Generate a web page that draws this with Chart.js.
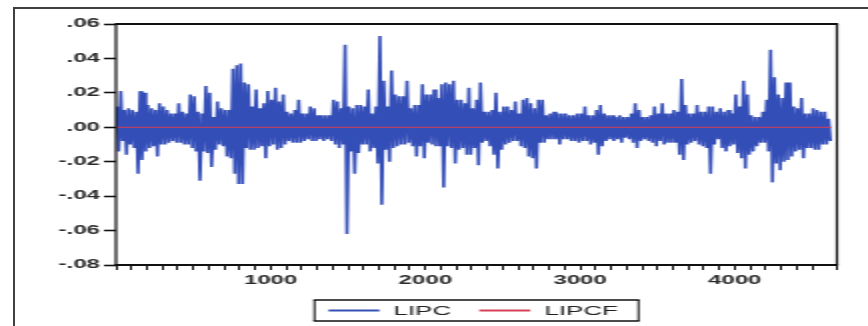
<!DOCTYPE html>
<html>
<head>
<meta charset="utf-8">
<title>LIPC / LIPCF</title>
<script src="https://cdn.jsdelivr.net/npm/chart.js@4.4.1/dist/chart.umd.min.js"></script>
<style>
    html, body { margin: 0; padding: 0; background: #fff; overflow: hidden; width: 868px; height: 326px; }
    #frame { position: absolute; left: 13px; top: 7px; width: 900px; height: 400px; border: 2px solid #404040; box-sizing: border-box; }
    /* the source graph is stretched 2x horizontally, so the chart is drawn at half width and scaled */
    #wrap { position: absolute; left: 0; top: 0; width: 434px; height: 326px; transform: scale(2, 1); transform-origin: 0 0; }
</style>
</head>
<body>
<div id="frame"></div>
<div id="wrap"><canvas id="chart" width="434" height="326"></canvas></div>
<script>
const bucketSize = 25;
const lipcHigh = [
    0.012, 0.021, 0.010, 0.011, 0.010, 0.009, 0.021, 0.020, 0.013, 0.011,
    0.010, 0.014, 0.012, 0.010, 0.008, 0.008, 0.014, 0.009, 0.008, 0.019,
    0.018, 0.009, 0.008, 0.024, 0.020, 0.006, 0.015, 0.011, 0.010, 0.010,
    0.034, 0.036, 0.037, 0.026, 0.025, 0.012, 0.022, 0.011, 0.014, 0.021,
    0.016, 0.023, 0.015, 0.019, 0.009, 0.008, 0.010, 0.016, 0.008, 0.008,
    0.012, 0.011, 0.007, 0.007, 0.007, 0.007, 0.016, 0.015, 0.011, 0.048,
    0.012, 0.011, 0.013, 0.013, 0.012, 0.022, 0.008, 0.012, 0.053, 0.027,
    0.012, 0.033, 0.019, 0.018, 0.018, 0.027, 0.011, 0.013, 0.013, 0.025,
    0.019, 0.019, 0.022, 0.017, 0.025, 0.026, 0.025, 0.027, 0.016, 0.016,
    0.014, 0.023, 0.011, 0.016, 0.026, 0.009, 0.009, 0.010, 0.020, 0.009,
    0.012, 0.012, 0.010, 0.015, 0.008, 0.016, 0.017, 0.014, 0.011, 0.016,
    0.016, 0.007, 0.008, 0.009, 0.008, 0.008, 0.008, 0.007, 0.007, 0.008,
    0.008, 0.012, 0.007, 0.007, 0.010, 0.013, 0.008, 0.007, 0.007, 0.006,
    0.007, 0.006, 0.006, 0.008, 0.014, 0.010, 0.006, 0.006, 0.007, 0.012,
    0.008, 0.014, 0.008, 0.008, 0.010, 0.009, 0.028, 0.013, 0.008, 0.008,
    0.013, 0.009, 0.009, 0.012, 0.012, 0.009, 0.011, 0.009, 0.010, 0.008,
    0.019, 0.012, 0.027, 0.019, 0.007, 0.006, 0.006, 0.009, 0.016, 0.045,
    0.029, 0.019, 0.017, 0.026, 0.026, 0.012, 0.011, 0.017, 0.008, 0.008,
    0.011, 0.010, 0.009, 0.009, 0.005
];
const lipcLow = [
    -0.014, -0.008, -0.016, -0.010, -0.012, -0.027, -0.019, -0.014, -0.012, -0.011,
    -0.017, -0.010, -0.010, -0.009, -0.008, -0.009, -0.009, -0.010, -0.010, -0.012,
    -0.014, -0.031, -0.014, -0.015, -0.023, -0.013, -0.010, -0.011, -0.017, -0.018,
    -0.027, -0.033, -0.033, -0.012, -0.013, -0.013, -0.012, -0.011, -0.018, -0.011,
    -0.010, -0.013, -0.012, -0.010, -0.008, -0.009, -0.009, -0.009, -0.008, -0.007,
    -0.008, -0.008, -0.007, -0.008, -0.007, -0.008, -0.010, -0.012, -0.010, -0.062,
    -0.014, -0.027, -0.015, -0.010, -0.010, -0.014, -0.012, -0.021, -0.045, -0.013,
    -0.020, -0.012, -0.011, -0.010, -0.010, -0.009, -0.011, -0.017, -0.011, -0.018,
    -0.009, -0.010, -0.011, -0.011, -0.035, -0.011, -0.012, -0.021, -0.013, -0.012,
    -0.016, -0.016, -0.012, -0.022, -0.009, -0.008, -0.011, -0.016, -0.024, -0.013,
    -0.010, -0.009, -0.008, -0.008, -0.011, -0.012, -0.017, -0.018, -0.024, -0.009,
    -0.009, -0.007, -0.007, -0.007, -0.010, -0.007, -0.007, -0.008, -0.008, -0.009,
    -0.008, -0.008, -0.010, -0.009, -0.016, -0.011, -0.008, -0.007, -0.008, -0.007,
    -0.009, -0.006, -0.007, -0.009, -0.012, -0.008, -0.007, -0.008, -0.009, -0.011,
    -0.008, -0.010, -0.009, -0.009, -0.009, -0.016, -0.019, -0.010, -0.009, -0.008,
    -0.010, -0.011, -0.012, -0.027, -0.010, -0.007, -0.012, -0.014, -0.011, -0.010,
    -0.015, -0.018, -0.024, -0.016, -0.014, -0.011, -0.009, -0.009, -0.014, -0.032,
    -0.021, -0.025, -0.020, -0.019, -0.017, -0.014, -0.013, -0.018, -0.012, -0.012,
    -0.013, -0.013, -0.010, -0.010, -0.008
];
// LIPCF (fitted) stays flat on zero
const lipcfObs = [1, 4625];
const lipcfValues = [0.0, 0.0];

const xMin = 0, xMax = 4660;
const yMin = -0.08, yMax = 0.06, yStep = 0.02;
const xStep = 100, xLabelStep = 1000;

const BLUE = 'rgb(52, 78, 184)';
const RED = 'rgb(214, 62, 86)';
const FONT = "'Liberation Sans', Arial, sans-serif";

// zigzag through each block: its high, then its low
const lipcPoints = [];
lipcHigh.forEach((hi, k) => {
    lipcPoints.push({ x: k * bucketSize + 6, y: hi });
    lipcPoints.push({ x: k * bucketSize + 18, y: lipcLow[k] });
});
const lipcfPoints = lipcfObs.map((x, i) => ({ x, y: lipcfValues[i] }));

function yLabel(v) {
    if (Math.abs(v) < 1e-9) return '.00';
    const s = Math.abs(v).toFixed(2).replace(/^0/, '');
    return (v < 0 ? '-' : '') + s;
}

// Box around the plot + boxed legend under it
const frameAndLegend = {
    id: 'frameAndLegend',
    afterDraw(chart) {
        const ctx = chart.ctx;
        const a = chart.chartArea;
        ctx.save();
        ctx.strokeStyle = '#111';
        ctx.lineWidth = 2;
        ctx.beginPath();
        ctx.moveTo(a.left - 0.6, a.top); ctx.lineTo(a.right + 0.6, a.top);
        ctx.moveTo(a.left - 0.6, a.bottom); ctx.lineTo(a.right + 0.6, a.bottom);
        ctx.stroke();
        ctx.lineWidth = 1.2;
        ctx.beginPath();
        ctx.moveTo(a.left, a.top); ctx.lineTo(a.left, a.bottom);
        ctx.moveTo(a.right, a.top); ctx.lineTo(a.right, a.bottom);
        ctx.stroke();

        // legend
        const boxW = 162, boxH = 21, boxTop = 300;
        const boxLeft = (a.left + a.right) / 2 - boxW / 2;
        ctx.lineWidth = 1.6;
        ctx.beginPath();
        ctx.moveTo(boxLeft - 0.5, boxTop); ctx.lineTo(boxLeft + boxW + 0.5, boxTop);
        ctx.moveTo(boxLeft - 0.5, boxTop + boxH); ctx.lineTo(boxLeft + boxW + 0.5, boxTop + boxH);
        ctx.stroke();
        ctx.lineWidth = 1;
        ctx.beginPath();
        ctx.moveTo(boxLeft, boxTop); ctx.lineTo(boxLeft, boxTop + boxH);
        ctx.moveTo(boxLeft + boxW, boxTop); ctx.lineTo(boxLeft + boxW, boxTop + boxH);
        ctx.stroke();

        ctx.font = '13px ' + FONT;
        ctx.textBaseline = 'middle';
        ctx.fillStyle = '#222';
        const midY = boxTop + boxH / 2;
        let x = boxLeft + 7;
        chart.data.datasets.forEach(ds => {
            ctx.strokeStyle = ds.borderColor;
            ctx.lineWidth = 2;
            ctx.beginPath();
            ctx.moveTo(x, midY); ctx.lineTo(x + 25.5, midY);
            ctx.stroke();
            ctx.fillText(ds.label, x + 32.5, midY + 0.5);
            x += 32.5 + ctx.measureText(ds.label).width + 14;
        });
        ctx.restore();
    }
};

new Chart(document.getElementById('chart'), {
    type: 'line',
    data: {
        datasets: [
            { label: 'LIPC', data: lipcPoints, borderColor: BLUE, backgroundColor: BLUE, fill: 'origin',
              borderWidth: 1.6, pointRadius: 0, tension: 0, order: 1 },
            { label: 'LIPCF', data: lipcfPoints, borderColor: RED, borderWidth: 1, pointRadius: 0, tension: 0, order: 0 }
        ]
    },
    options: {
        animation: false,
        responsive: false,
        devicePixelRatio: 1,
        events: [],
        layout: { padding: { left: 0, top: 24, right: 15.5, bottom: 37 } },
        plugins: { legend: { display: false }, tooltip: { enabled: false }, filler: { propagate: false } },
        scales: {
            x: {
                type: 'linear', min: xMin, max: xMax,
                afterFit: s => { s.height = 24; },
                border: { display: false },
                grid: { drawOnChartArea: false, tickLength: 5, tickWidth: 1, color: '#111' },
                ticks: {
                    stepSize: xStep, autoSkip: false, maxRotation: 0, padding: 3,
                    color: '#2a2a2a', font: { family: FONT, size: 12, weight: 'bold' },
                    callback: v => (v > 0 && v % xLabelStep === 0) ? String(v) : ''
                }
            },
            y: {
                min: yMin, max: yMax,
                afterFit: s => { s.width = 58; },
                border: { display: false },
                grid: { drawOnChartArea: false, tickLength: 6, tickWidth: 1.6, color: '#111' },
                ticks: {
                    stepSize: yStep, padding: 2,
                    color: '#2a2a2a', font: { family: FONT, size: 12, weight: 'bold' },
                    callback: yLabel
                }
            }
        }
    },
    plugins: [frameAndLegend]
});
</script>
</body>
</html>
